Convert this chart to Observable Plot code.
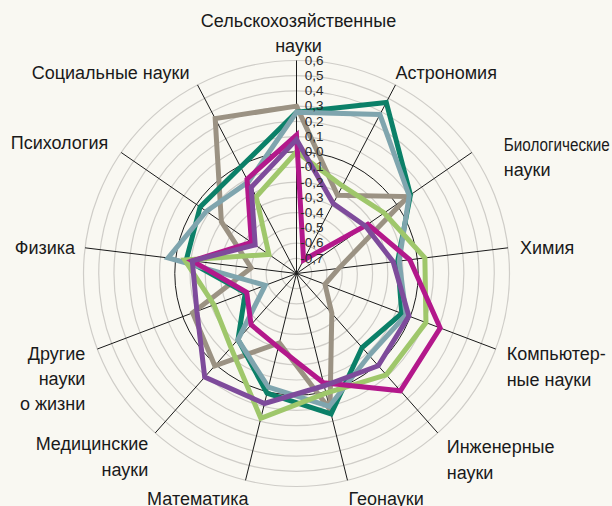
<!DOCTYPE html>
<html><head><meta charset="utf-8">
<script src="https://cdn.jsdelivr.net/npm/d3@7"></script>
<script src="https://cdn.jsdelivr.net/npm/@observablehq/plot@0.6"></script>
<style>
html,body{margin:0;padding:0;background:#f9f8f2;}
#chart svg{display:block;}
</style></head><body><div id="chart"></div>
<script>
// ---- data ----
const categories = [
  "Сельскохозяйственные\nнауки", "Астрономия", "Биологические\nнауки", "Химия",
  "Компьютер-\nные науки", "Инженерные\nнауки", "Геонауки", "Математика",
  "Медицинские\nнауки", "Другие\nнауки\nо жизни", "Физика", "Психология", "Социальные науки"
];
const seriesNames = ["s1", "s2", "s3", "s4", "s5", "s6"];
const s1 = [0.30, -0.22, 0.09, -0.52, -0.60, -0.45, 0.12, -0.33, 0.01, -0.07, -0.50, -0.20, 0.35]; // taupe
const s2 = [0.26, 0.47, 0.11, -0.13, -0.06, -0.15, 0.15, 0.01, -0.22, -0.44, -0.07, -0.03, -0.01]; // teal
const s3 = [0.26, 0.38, 0.10, -0.12, -0.03, -0.08, 0.10, -0.03, -0.22, -0.58, 0.05, -0.08, -0.12]; // blue-grey
const s4 = [0.00, -0.15, -0.10, 0.05, 0.11, 0.09, 0.01, 0.18, -0.15, -0.22, -0.06, -0.58, -0.23]; // light green
const s5 = [0.11, -0.70, -0.23, -0.05, 0.21, 0.23, -0.06, -0.30, -0.35, -0.45, -0.11, -0.44, -0.10]; // magenta
const s6 = [0.08, -0.28, -0.25, -0.16, -0.01, 0.01, -0.04, 0.08, 0.11, -0.10, -0.11, -0.47, -0.16]; // purple
const tickValues = [0.6, 0.5, 0.4, 0.3, 0.2, 0.1, 0.0, -0.1, -0.2, -0.3, -0.4, -0.5, -0.6, -0.7];

// ---- layout / style ----
const colors = ["#9b9283", "#0b8068", "#7fa5ae", "#9fc76b", "#b3188b", "#7e4b9b"];
const W = 612, H = 506, CX = 296, CY = 273, R = 213;
const vMin = -0.8, vMax = 0.6, span = vMax - vMin;
const k = R / span;
const n = categories.length;
const ang = i => 2 * Math.PI * i / n;
const px = (i, v) => (v - vMin) * Math.sin(ang(i));
const py = (i, v) => (v - vMin) * Math.cos(ang(i));
// label placement: anchor + pixel offset from the spoke end
const labelLayout = [
  ["middle", 2, -29], ["start", 0, -14], ["start", 32, 3], ["start", 12, -2],
  ["start", 11, 16], ["start", 9, 25], ["start", 1, 17], ["end", 3, 17],
  ["end", -7, 22], ["end", -12, 28], ["end", -10, -2], ["end", -13, -12], ["end", -8, -14]
];
const FONT = "'Liberation Sans', Arial, sans-serif";

const rows = [];
[s1, s2, s3, s4, s5, s6].forEach((arr, si) => arr.forEach((v, i) => rows.push({series: seriesNames[si], i, v})));
const labels = categories.map((t, i) => ({t, i, a: labelLayout[i][0], dx: labelLayout[i][1], dy: labelLayout[i][2]}));
const gridVals = tickValues.filter(v => v !== 0);
const fmt = v => d3.format(".1f")(v).replace(".", ",").replace("\u2212", "-");

const labelMark = anchor => Plot.text(labels.filter(d => d.a === anchor), {
  x: d => px(d.i, vMax) + d.dx / k,
  y: d => py(d.i, vMax) - d.dy / k,
  text: "t", textAnchor: anchor, lineAnchor: "middle", lineHeight: 1.4,
  fontSize: 18, fill: "#1a1a1a"
});

const chart = Plot.plot({
  width: W, height: H,
  marginTop: 0, marginRight: 0, marginBottom: 0, marginLeft: 0,
  style: {background: "#f9f8f2", fontFamily: FONT},
  x: {domain: [-CX / k, (W - CX) / k], range: [0, W], axis: null},
  y: {domain: [-(H - CY) / k, CY / k], range: [H, 0], axis: null},
  r: {type: "linear", domain: [0, span], range: [0, R]},
  color: {domain: seriesNames, range: colors},
  marks: [
    Plot.dot(gridVals, {x: 0, y: 0, r: v => v - vMin, stroke: "#cfcdc8", strokeWidth: 1.2, fill: "none"}),
    Plot.dot([0], {x: 0, y: 0, r: v => v - vMin, stroke: "#1a1a1a", strokeWidth: 1, fill: "none"}),
    Plot.link(d3.range(n), {x1: 0, y1: 0, x2: i => px(i, vMax), y2: i => py(i, vMax), stroke: "#1a1a1a", strokeWidth: 1}),
    Plot.dot([0], {x: 0, y: 0, r: 0.02, fill: "#1a1a1a"}),
    Plot.line(rows, {x: d => px(d.i, d.v), y: d => py(d.i, d.v), z: "series", stroke: "series",
      strokeWidth: 5, curve: "linear-closed", strokeLinejoin: "miter", strokeMiterlimit: 6}),
    Plot.text(tickValues, {x: 0, y: v => v - vMin, text: fmt, textAnchor: "end", dx: 27, fontSize: 13.5, fill: "#2a2a2a"}),
    labelMark("start"), labelMark("middle"), labelMark("end")
  ]
});
// condense the one long label so it fits inside the frame, as in the original
d3.select(chart).selectAll("tspan").filter(function () { return this.textContent === "Биологические"; })
  .attr("textLength", 106).attr("lengthAdjust", "spacingAndGlyphs");
document.getElementById("chart").appendChild(chart);
</script>
</body></html>
